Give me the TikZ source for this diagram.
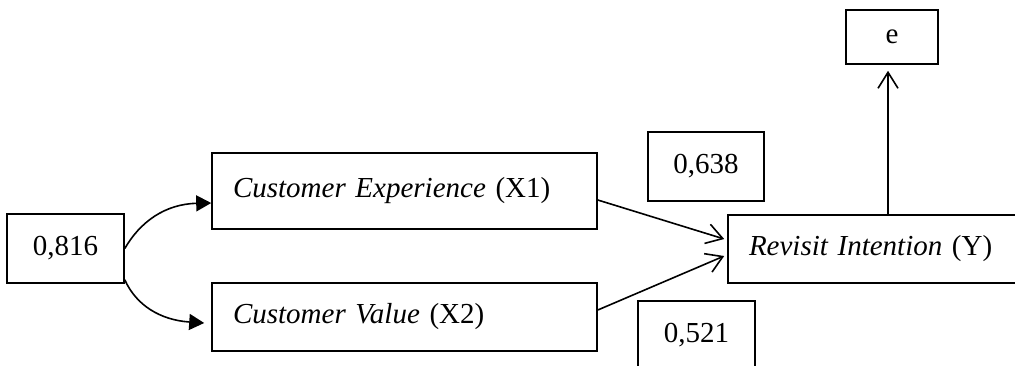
\documentclass[tikz,border=0pt]{standalone}
\usepackage{fontspec}
\setmainfont{Liberation Serif}
\usetikzlibrary{arrows.meta}
\begin{document}
\begin{tikzpicture}[x=0.5pt,y=-0.5pt,
  font=\fontsize{14.5}{17}\selectfont,
  box/.style={draw,line width=0.8pt,inner ysep=0pt,align=center},
  lbox/.style={draw,line width=0.8pt,inner ysep=0pt,inner xsep=10.5pt,align=left},
  conn/.style={line width=0.8pt},
  openarr/.style={conn,-{Straight Barb[length=8pt,width=10pt]}},
  fillarr/.style={conn,-{Triangle[length=7.5pt,width=8pt]}}]
\useasboundingbox (0,0) rectangle (1015,365);
\clip (0,0) rectangle (1015,365);
\node[box,minimum width=58.5pt,minimum height=34.5pt] (n816) at (65.5,248.5) {0,816};
\node[lbox,text width=171.5pt,minimum height=38pt] (x1) at (404.5,191) {\textit{Customer Experience} (X1)};
\node[lbox,text width=171.5pt,minimum height=34pt] (x2) at (404.5,317) {\textit{Customer Value} (X2)};
\node[box,minimum width=58pt,minimum height=34.5pt] (n638) at (706,166.5) {0,638};
\node[lbox,text width=135pt,minimum height=34pt] (y) at (884,249) {\textit{Revisit Intention} (Y)};
\node[box,minimum width=58.5pt,minimum height=34.5pt] (n521) at (696.5,335.5) {0,521};
\node[box,minimum width=46pt,minimum height=27pt] (e) at (892,37) {e};
% correlation curves
\draw[fillarr] (n816.east) .. controls (140,222) and (165,204) .. ([yshift=-6pt]x1.west);
\draw[fillarr] ([yshift=2pt]n816.south east) .. controls (136,305) and (160,320) .. ([shift={(-3.5pt,-3pt)}]x2.west);
% paths to Y
\draw[openarr] ([yshift=-4.5pt]x1.east) -- ([shift={(-1.5pt,5pt)}]y.west);
\draw[openarr] ([yshift=3.5pt]x2.east) -- ([shift={(-1.5pt,-3.5pt)}]y.west);
% Y to e
\coordinate (ebot) at ([shift={(-2pt,-3pt)}]e.south);
\draw[openarr] (ebot |- y.north) -- (ebot);
\end{tikzpicture}
\end{document}
